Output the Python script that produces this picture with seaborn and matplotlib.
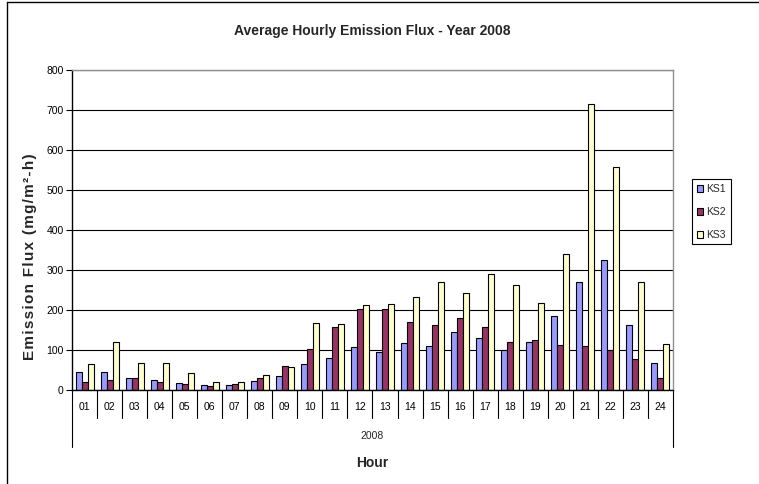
import numpy as np
import pandas as pd
import matplotlib
matplotlib.use("Agg")
import matplotlib.pyplot as plt
import matplotlib.transforms as mtransforms
from matplotlib.lines import Line2D
import seaborn as sns

# Average hourly emission flux per station, 2008 (mg/m²-h)
hours = [f"{h:02d}" for h in range(1, 25)]
ks1 = [46, 46, 31, 26, 18, 12, 12, 23, 35, 64, 81, 107, 95, 118, 110, 146,
       130, 101, 121, 186, 269, 324, 162, 67]
ks2 = [21, 26, 29, 21, 15, 9, 14, 31, 61, 103, 157, 203, 203, 171, 162, 179,
       157, 121, 126, 112, 110, 101, 78, 29]
ks3 = [66, 121, 68, 68, 43, 21, 21, 37, 58, 168, 166, 212, 214, 232, 269, 243,
       289, 263, 217, 339, 715, 558, 269, 116]
series = ["KS1", "KS2", "KS3"]
colors = ["#9999FF", "#993366", "#FFFFCC"]
year_label = "2008"
y_ticks = list(range(0, 801, 100))

sns.set_style("white")
plt.rcParams["font.family"] = ["Liberation Sans", "DejaVu Sans"]

df = pd.DataFrame({
    "Hour": hours * 3,
    "Series": np.repeat(series, len(hours)),
    "Flux": ks1 + ks2 + ks3,
})

W, H = 759, 484
fig = plt.figure(figsize=(W / 100, H / 100), dpi=100)
ax = fig.add_axes([72 / W, 94 / H, 601 / W, 320 / H])

sns.barplot(data=df, x="Hour", y="Flux", hue="Series", order=hours,
            hue_order=series, palette=colors, saturation=1, width=0.72,
            edgecolor="black", linewidth=0.8, errorbar=None, ax=ax)

handles, labels = ax.get_legend_handles_labels()
ax.get_legend().remove()

ax.set_xlim(-0.5, len(hours) - 0.5)
ax.set_ylim(0, 800)
ax.set_yticks(y_ticks)
ax.set_xlabel("")
ax.set_ylabel("")

ax.set_axisbelow(True)
ax.yaxis.grid(True, color="black", linewidth=0.8)
ax.xaxis.grid(False)

for side in ("left", "bottom"):
    ax.spines[side].set_color("black")
    ax.spines[side].set_linewidth(1.0)
for side in ("top", "right"):
    ax.spines[side].set_color("#909090")
    ax.spines[side].set_linewidth(1.0)

ax.tick_params(axis="y", direction="out", length=4, width=0.8, pad=2,
               labelsize=7.5, colors="black", left=True)
ax.tick_params(axis="x", length=0, pad=9, labelsize=7.5, colors="black")

# category separators and the outer bracket of the year group
trans = mtransforms.blended_transform_factory(ax.transData, ax.transAxes)
n = len(hours)
for i in range(n + 1):
    x = i - 0.5
    depth = 57 / 320 if i in (0, n) else 28 / 320
    ax.add_line(Line2D([x, x], [0, -depth], transform=trans, clip_on=False,
                       color="black", linewidth=0.8))

ax.text(0.5, -46 / 320, year_label, transform=ax.transAxes, ha="center",
        va="center", fontsize=7.5)

fig.text(372.5 / W, 1 - 463 / H, "Hour", ha="center", va="center",
         fontsize=10, fontweight="bold")
fig.text(372.5 / W, 1 - 31 / H, "Average Hourly Emission Flux - Year 2008",
         ha="center", va="center", fontsize=10, fontweight="bold")

# letter-spaced axis title
def spaced(s, gap="\u200a"):
    return gap.join(s)

fig.text(30 / W, 1 - 257 / H, spaced("Emission Flux (mg/m²-h)"), rotation=90,
         ha="center", va="center", fontsize=11, fontweight="bold")

leg = fig.legend(handles, labels, loc="upper left",
                 bbox_to_anchor=(692 / W, 1 - 179 / H), frameon=True,
                 fancybox=False, edgecolor="black", framealpha=1,
                 fontsize=7.5, handlelength=0.65, handleheight=0.65,
                 handletextpad=0.3, labelspacing=1.25, borderpad=0.45,
                 borderaxespad=0)
leg.get_frame().set_linewidth(0.8)

# chart area border (left and top edges)
fig.add_artist(Line2D([7 / W, 1], [1 - 2 / H, 1 - 2 / H], color="black",
                      linewidth=1.0, transform=fig.transFigure))
fig.add_artist(Line2D([7 / W, 7 / W], [0, 1 - 2 / H], color="black",
                      linewidth=1.0, transform=fig.transFigure))

fig.savefig("out.png", dpi=100)
